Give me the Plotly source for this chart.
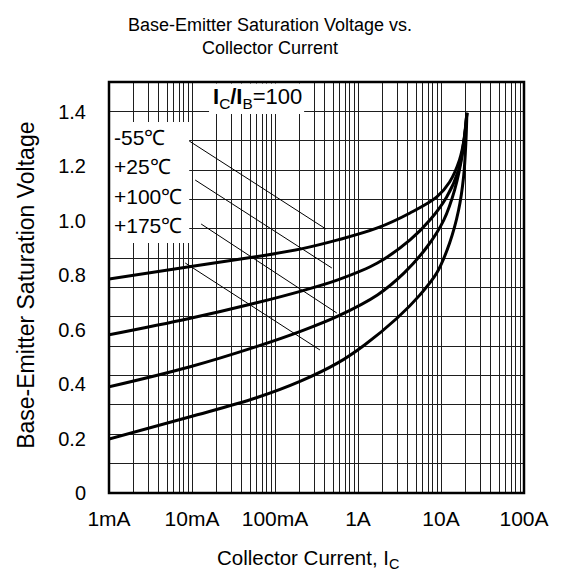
import plotly.graph_objects as go

# ---------------- data ----------------
series_names = ["-55℃", "+25℃", "+100℃", "+175℃"]

ic_m55 = [0.001, 0.00926, 0.0584, 0.2065, 0.571, 1.714, 4.24, 8.91, 12.7, 16.7, 19.2, 20.5]
vbe_m55 = [0.786, 0.831, 0.868, 0.897, 0.930, 0.974, 1.029, 1.088, 1.143, 1.224, 1.308, 1.397]

ic_p25 = [0.001, 0.00926, 0.0584, 0.2065, 0.571, 1.714, 4.24, 7.35, 11.7, 16.3, 18.7, 20.5]
vbe_p25 = [0.581, 0.641, 0.698, 0.742, 0.783, 0.845, 0.930, 1.003, 1.088, 1.187, 1.286, 1.397]

ic_p100 = [0.001, 0.00926, 0.0584, 0.2065, 0.571, 1.714, 3.60, 6.77, 10.8, 14.6, 18.2, 20.5]
vbe_p100 = [0.390, 0.463, 0.537, 0.595, 0.650, 0.728, 0.809, 0.904, 1.003, 1.114, 1.250, 1.397]

ic_p175 = [0.001, 0.00926, 0.0584, 0.2065, 0.571, 1.199, 2.969, 5.58, 8.91, 12.7, 16.3, 18.7, 20.0, 20.5]
vbe_p175 = [0.198, 0.279, 0.349, 0.412, 0.478, 0.544, 0.643, 0.728, 0.809, 0.919, 1.040, 1.161, 1.297, 1.397]

x_tickvals = [0.001, 0.01, 0.1, 1, 10, 100]
x_ticktext = ["1mA", "10mA", "100mA", "1A", "10A", "100A"]
y_tickvals = [0, 0.2, 0.4, 0.6, 0.8, 1.0, 1.2, 1.4]
y_ticktext = ["0", "0.2", "0.4", "0.6", "0.8", "1.0", "1.2", "1.4"]

title_text = "Base-Emitter Saturation Voltage vs.<br>Collector Current"
x_title = "Collector Current, I<sub>C</sub>"
y_title = "Base-Emitter Saturation Voltage"
ratio_text = "<b>I</b><sub>C</sub><b>/I</b><sub>B</sub>=100"

# ---------------- layout geometry ----------------
W, H = 561, 573
L, R, T, B = 109, 33, 82, 80
PW, PH = W - L - R, H - T - B
FONT = "Arial, Liberation Sans, sans-serif"
GRID = "#1e1e1e"
Y_TOP = PH / ((H - B - 112) / 1.4)      # voltage at the top of the frame (1.4 sits at y=112px)
N_HGRID = 14                             # the printed grid has 14 equal horizontal divisions
hgrid_vals = [Y_TOP * i / N_HGRID for i in range(N_HGRID + 1)]


def px(x, y):
    """pixel position on the page -> paper coordinates"""
    return (x - L) / PW, (H - B - y) / PH


fig = go.Figure()
for name, xs, ys in [(series_names[0], ic_m55, vbe_m55),
                     (series_names[1], ic_p25, vbe_p25),
                     (series_names[2], ic_p100, vbe_p100),
                     (series_names[3], ic_p175, vbe_p175)]:
    fig.add_trace(go.Scatter(x=xs, y=ys, mode="lines", name=name,
                             line=dict(color="black", width=3, shape="spline", smoothing=1.0),
                             showlegend=False, hoverinfo="skip"))

fig.update_layout(
    width=W, height=H,
    margin=dict(l=L, r=R, t=T, b=B),
    paper_bgcolor="white", plot_bgcolor="white",
    font=dict(family=FONT, color="black"),
    title=dict(text=title_text, x=270 / W, xanchor="center", xref="container",
               y=1 - 31 / H, yanchor="middle", yref="container",
               font=dict(size=18, family=FONT, color="black")),
    xaxis=dict(type="log", range=[-3, 2], tickvals=x_tickvals, ticktext=x_ticktext,
               showgrid=True, gridcolor=GRID, gridwidth=1.2,
               minor=dict(dtick="D1", showgrid=True, gridcolor=GRID, gridwidth=1.2, ticks=""),
               ticks="outside", ticklen=7, tickcolor="rgba(0,0,0,0)",
               tickfont=dict(size=21, family=FONT),
               showline=False, zeroline=False, fixedrange=True),
    yaxis=dict(range=[0, Y_TOP], tickvals=y_tickvals, ticktext=y_ticktext,
               showgrid=False, zeroline=False, showline=False, fixedrange=True,
               minor=dict(tickvals=hgrid_vals, showgrid=True, gridcolor=GRID, gridwidth=1.25, ticks=""),
               ticks="outside", ticklen=18, tickcolor="rgba(0,0,0,0)",
               tickfont=dict(size=20, family=FONT)),
)

shapes = []
# white boxes masking the grid behind the labels
x0, y0 = px(L + 1, 122); x1, y1 = px(190, 243)
shapes.append(dict(type="rect", xref="paper", yref="paper", x0=x0, y0=y1, x1=x1, y1=y0,
                   fillcolor="white", line=dict(width=0), layer="above"))
x0, y0 = px(210, T + 1.5); x1, y1 = px(306, 114)
shapes.append(dict(type="rect", xref="paper", yref="paper", x0=x0, y0=y1, x1=x1, y1=y0,
                   fillcolor="white", line=dict(width=0), layer="above"))
# leader lines from the temperature labels to the curves
for (ax0, ay0, ax1, ay1) in [(190, 141, 328, 229), (196, 180, 334, 268),
                             (202, 224, 339, 313), (186, 263, 322, 350)]:
    a, b = px(ax0, ay0); c, d = px(ax1, ay1)
    shapes.append(dict(type="line", xref="paper", yref="paper", x0=a, y0=b, x1=c, y1=d,
                       line=dict(color="black", width=1), layer="above"))
# plot frame
shapes.append(dict(type="rect", xref="paper", yref="paper", x0=0, y0=0, x1=1, y1=1,
                   line=dict(color="black", width=2.5), layer="above"))
fig.update_layout(shapes=shapes)

ann = []
for i, name in enumerate(series_names):
    xa, ya = px(112, 137.5 + 29.3 * i)
    ann.append(dict(text=name, xref="paper", yref="paper", x=xa, y=ya, xanchor="left",
                    yanchor="middle", showarrow=False, font=dict(size=21, family=FONT)))
xa, ya = px(259, 98)
ann.append(dict(text=ratio_text, xref="paper", yref="paper", x=xa, y=ya, xanchor="center",
                yanchor="middle", showarrow=False, font=dict(size=22, family=FONT)))
xa, ya = px(310, 559)
ann.append(dict(text=x_title, xref="paper", yref="paper", x=xa, y=ya, xanchor="center",
                yanchor="middle", showarrow=False, font=dict(size=20.5, family=FONT)))
xa, ya = px(25, 285)
ann.append(dict(text=y_title, xref="paper", yref="paper", x=xa, y=ya, xanchor="center",
                yanchor="middle", textangle=-90, showarrow=False, font=dict(size=23, family=FONT)))
fig.update_layout(annotations=ann)

fig.write_html("out.html", config={"displayModeBar": False},
               post_script="document.body.style.margin='0px';")
